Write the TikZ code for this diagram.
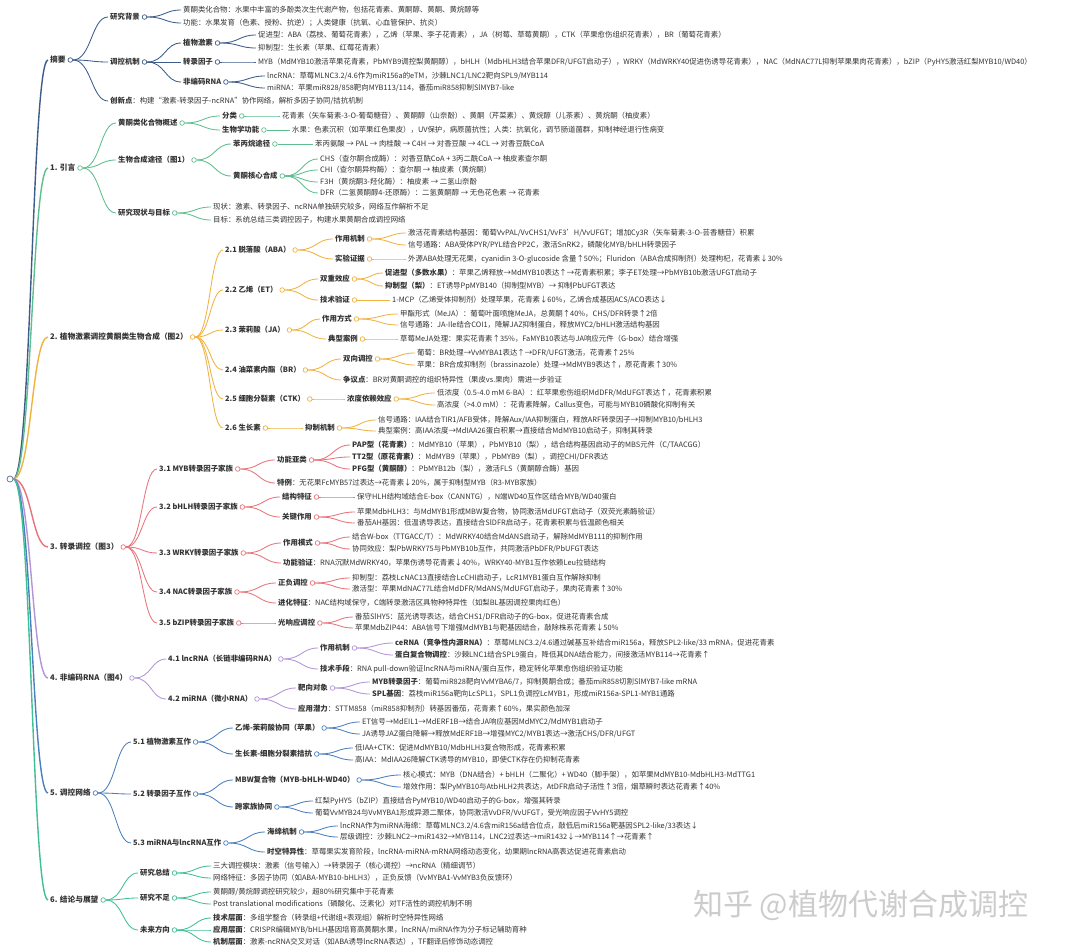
\documentclass[tikz,border=0pt]{standalone}
\usepackage{fontspec}
\setmainfont{Noto Sans CJK SC}
\usetikzlibrary{calc}
\definecolor{txt}{HTML}{333333}
\definecolor{cR}{HTML}{5B6F8F}
\definecolor{cA}{HTML}{3E5C8A}
\definecolor{cB}{HTML}{5DBE8E}
\definecolor{cC}{HTML}{F0B341}
\definecolor{cD}{HTML}{E7747A}
\definecolor{cE}{HTML}{B394D6}
\definecolor{cF}{HTML}{4A80C0}
\definecolor{cG}{HTML}{3FBF95}
\colorlet{bc}{cA}
\tikzset{
  lab/.style={anchor=west, inner sep=0pt, text=txt, font=\fontsize{7.4}{8}\selectfont},
  blab/.style={lab, font=\fontsize{7.4}{8}\selectfont\bfseries},
  lone/.style={lab, font=\fontsize{7.7}{9}\selectfont\bfseries},
  dot/.style={circle, draw=bc, fill=white, inner sep=0pt, minimum size=4.6pt, line width=0.7pt},
  cn/.style={draw=bc, line width=0.85pt},
  rcn/.style={line width=1.4pt},
}
\newcommand\Cn[2]{\draw[cn] let \p1=(#1o.east),\p2=(#2.west) in (\p1) .. controls ({0.5*\x1+0.5*\x2},\y1) and ({0.5*\x1+0.5*\x2},\y2) .. ({\x2-2pt},\y2);}
\newcommand\Nd[6]{\node[#5] (#2) at (#3,#4) {#6};\node[dot] (#2o) at ([xshift=4.5pt]#2.east) {};\Cn{#1}{#2}}
\newcommand\Lf[5]{\node[lab] (#2) at (#3,#4) {#5};\Cn{#1}{#2}}
\newcommand\Rc[1]{\draw[rcn,draw=bc] let \p1=(rooto.east),\p2=(#1.west) in (\p1) .. controls ({0.5*\x1+0.5*\x2},\y1) and ({0.5*\x1+0.5*\x2},\y2) .. ({\x2-2pt},\y2);}
\begin{document}
\begin{tikzpicture}[x=1pt,y=-1pt]
\fill[white] (0,0) rectangle (1080,950);
\useasboundingbox (0,0) rectangle (1080,950);
\node[dot,draw=cR,minimum size=6pt] (rooto) at (10,479) {};

% ---------------- 摘要
\begin{scope}
\colorlet{bc}{cA}
\node[lone] (A) at (50,60) {摘要};\node[dot] (Ao) at ([xshift=4.5pt]A.east) {};\Rc{A}
\Nd{A}{A1}{110}{17}{blab}{研究背景}
\Lf{A1}{A1a}{183}{10}{黄酮类化合物：水果中丰富的多酚类次生代谢产物，包括花青素、黄酮醇、黄酮、黄烷醇等}
\Lf{A1}{A1b}{183}{23}{功能：水果发育（色素、授粉、抗逆）；人类健康（抗氧、心血管保护、抗炎）}
\Nd{A}{A2}{110}{62}{blab}{调控机制}
\Nd{A2}{A2a}{183}{43}{blab}{植物激素}
\Lf{A2a}{A2a1}{258}{35}{促进型：ABA（荔枝、葡萄花青素），乙烯（苹果、李子花青素），JA（树莓、草莓黄酮），CTK（苹果愈伤组织花青素），BR（葡萄花青素）}
\Lf{A2a}{A2a2}{258}{48}{抑制型：生长素（苹果、红莓花青素）}
\Nd{A2}{A2b}{183}{62}{blab}{转录因子}
\Lf{A2b}{A2b1}{258}{62}{MYB（MdMYB10激活苹果花青素，PbMYB9调控梨黄酮醇），bHLH（MdbHLH3结合苹果DFR/UFGT启动子），WRKY（MdWRKY40促进伤诱导花青素），NAC（MdNAC77L抑制苹果果肉花青素），bZIP（PyHY5激活红梨MYB10/WD40）}
\Nd{A2}{A2c}{183}{82}{blab}{非编码RNA}
\Lf{A2c}{A2c1}{267}{76}{lncRNA：草莓MLNC3.2/4.6作为miR156a的eTM，沙棘LNC1/LNC2靶向SPL9/MYB114}
\Lf{A2c}{A2c2}{267}{88}{miRNA：苹果miR828/858靶向MYB113/114，番茄miR858抑制SlMYB7-like}
\Lf{A}{A3}{110}{101}{\textbf{创新点}：构建“激素-转录因子-ncRNA”协作网络，解析多因子协同/拮抗机制}
\end{scope}

% ---------------- 1. 引言
\begin{scope}
\colorlet{bc}{cB}
\node[lone] (B) at (50,168) {1. 引言};\node[dot] (Bo) at ([xshift=4.5pt]B.east) {};\Rc{B}
\Nd{B}{B1}{118}{123}{blab}{黄酮类化合物概述}
\Nd{B1}{B1a}{222}{116}{blab}{分类}
\Lf{B1a}{B1a1}{282}{116}{花青素（矢车菊素-3-O-葡萄糖苷）、黄酮醇（山奈酚）、黄酮（芹菜素）、黄烷醇（儿茶素）、黄烷酮（柚皮素）}
\Nd{B1}{B1b}{222}{130}{blab}{生物学功能}
\Lf{B1b}{B1b1}{292}{130}{水果：色素沉积（如苹果红色果皮），UV保护，病原菌抗性；人类：抗氧化，调节肠道菌群，抑制神经退行性病变}
\Nd{B}{B2}{118}{160}{blab}{生物合成途径（图1）}
\Nd{B2}{B2a}{233}{144}{blab}{苯丙烷途径}
\Lf{B2a}{B2a1}{315}{144}{苯丙氨酸 → PAL → 肉桂酸 → C4H → 对香豆酸 → 4CL → 对香豆酰CoA}
\Nd{B2}{B2b}{233}{176}{blab}{黄酮核心合成}
\Lf{B2b}{B2b1}{320}{159}{CHS（查尔酮合成酶）：对香豆酰CoA + 3丙二酰CoA → 柚皮素查尔酮}
\Lf{B2b}{B2b2}{320}{170}{CHI（查尔酮异构酶）：查尔酮 → 柚皮素（黄烷酮）}
\Lf{B2b}{B2b3}{320}{182}{F3H（黄烷酮3-羟化酶）：柚皮素 → 二氢山奈酚}
\Lf{B2b}{B2b4}{320}{193}{DFR（二氢黄酮醇4-还原酶）：二氢黄酮醇 → 无色花色素 → 花青素}
\Nd{B}{B3}{118}{213}{blab}{研究现状与目标}
\Lf{B3}{B3a}{213}{207}{现状：激素、转录因子、ncRNA单独研究较多，网络互作解析不足}
\Lf{B3}{B3b}{213}{220}{目标：系统总结三类调控因子，构建水果黄酮合成调控网络}
\end{scope}

% ---------------- 2. 植物激素
\begin{scope}
\colorlet{bc}{cC}
\node[lone] (C) at (50,337) {2. 植物激素调控黄酮类生物合成（图2）};\node[dot] (Co) at ([xshift=4.5pt]C.east) {};\Rc{C}
\Nd{C}{C1}{225}{250}{blab}{2.1 脱落酸（ABA）}
\Nd{C1}{C1a}{335}{239}{blab}{作用机制}
\Lf{C1a}{C1a1}{408}{233}{激活花青素结构基因：葡萄VvPAL/VvCHS1/VvF3’H/VvUFGT；增加Cy3R（矢车菊素-3-O-芸香糖苷）积累}
\Lf{C1a}{C1a2}{408}{245}{信号通路：ABA受体PYR/PYL结合PP2C，激活SnRK2，磷酸化MYB/bHLH转录因子}
\Nd{C1}{C1b}{335}{259}{blab}{实验证据}
\Lf{C1b}{C1b1}{408}{259}{外源ABA处理无花果，cyanidin 3-O-glucoside 含量↑50\%；Fluridon（ABA合成抑制剂）处理枸杞，花青素↓30\%}
\Nd{C}{C2}{225}{290}{blab}{2.2 乙烯（ET）}
\Nd{C2}{C2a}{320}{279}{blab}{双重效应}
\Lf{C2a}{C2a1}{385}{273}{\textbf{促进型（多数水果）}：苹果乙烯释放→MdMYB10表达↑→花青素积累；李子ET处理→PbMYB10b激活UFGT启动子}
\Lf{C2a}{C2a2}{385}{286}{\textbf{抑制型（梨）}：ET诱导PpMYB140（抑制型MYB）→ 抑制PbUFGT表达}
\Nd{C2}{C2b}{320}{300}{blab}{技术验证}
\Lf{C2b}{C2b1}{392}{300}{1-MCP（乙烯受体抑制剂）处理苹果，花青素↓60\%，乙烯合成基因ACS/ACO表达↓}
\Nd{C}{C3}{225}{330}{blab}{2.3 茉莉酸（JA）}
\Nd{C3}{C3a}{322}{319}{blab}{作用方式}
\Lf{C3a}{C3a1}{400}{314}{甲酯形式（MeJA）：葡萄叶面喷施MeJA，总黄酮↑40\%，CHS/DFR转录↑2倍}
\Lf{C3a}{C3a2}{400}{325}{信号通路：JA-Ile结合COI1，降解JAZ抑制蛋白，释放MYC2/bHLH激活结构基因}
\Nd{C3}{C3b}{328}{339}{blab}{典型案例}
\Lf{C3b}{C3b1}{400}{339}{草莓MeJA处理：果实花青素↑35\%，FaMYB10表达与JA响应元件（G-box）结合增强}
\Nd{C}{C4}{225}{370}{blab}{2.4 油菜素内酯（BR）}
\Nd{C4}{C4a}{343}{359}{blab}{双向调控}
\Lf{C4a}{C4a1}{417}{353}{葡萄：BR处理→VvMYBA1表达↑→DFR/UFGT激活，花青素↑25\%}
\Lf{C4a}{C4a2}{417}{365}{苹果：BR合成抑制剂（brassinazole）处理→MdMYB9表达↑，原花青素↑30\%}
\Lf{C4}{C4b}{343}{380}{\textbf{争议点}：BR对黄酮调控的组织特异性（果皮vs.果肉）需进一步验证}
\Nd{C}{C5}{225}{399}{blab}{2.5 细胞分裂素（CTK）}
\Nd{C5}{C5a}{347}{399}{blab}{浓度依赖效应}
\Lf{C5a}{C5a1}{437}{393}{低浓度（0.5-4.0 mM 6-BA）：红苹果愈伤组织MdDFR/MdUFGT表达↑，花青素积累}
\Lf{C5a}{C5a2}{437}{405}{高浓度（>4.0 mM）：花青素降解，Callus变色，可能与MYB10磷酸化抑制有关}
\Nd{C}{C6}{225}{428}{blab}{2.6 生长素}
\Nd{C6}{C6a}{305}{428}{blab}{抑制机制}
\Lf{C6a}{C6a1}{378}{420}{信号通路：IAA结合TIR1/AFB受体，降解Aux/IAA抑制蛋白，释放ARF转录因子→抑制MYB10/bHLH3}
\Lf{C6a}{C6a2}{378}{431}{典型案例：高IAA浓度→MdIAA26蛋白积累→直接结合MdMYB10启动子，抑制其转录}
\end{scope}

% ---------------- 3. 转录调控
\begin{scope}
\colorlet{bc}{cD}
\node[lone] (D) at (50,547) {3. 转录调控（图3）};\node[dot] (Do) at ([xshift=4.5pt]D.east) {};\Rc{D}
\Nd{D}{D1}{159}{469}{blab}{3.1 MYB转录因子家族}
\Nd{D1}{D1a}{277}{460}{blab}{功能亚类}
\Lf{D1a}{D1a1}{352}{445}{\textbf{PAP型（花青素）}：MdMYB10（苹果），PbMYB10（梨），结合结构基因启动子的MBS元件（C/TAACGG）}
\Lf{D1a}{D1a2}{352}{457}{\textbf{TT2型（原花青素）}：MdMYB9（苹果），PbMYB9（梨），调控CHI/DFR表达}
\Lf{D1a}{D1a3}{352}{469}{\textbf{PFG型（黄酮醇）}：PbMYB12b（梨），激活FLS（黄酮醇合酶）基因}
\Lf{D1}{D1b}{277}{483}{\textbf{特例}：无花果FcMYB57过表达→花青素↓20\%，属于抑制型MYB（R3-MYB家族）}
\Nd{D}{D2}{159}{507}{blab}{3.2 bHLH转录因子家族}
\Nd{D2}{D2a}{282}{497}{blab}{结构特征}
\Lf{D2a}{D2a1}{357}{497}{保守HLH结构域结合E-box（CANNTG），N端WD40互作区结合MYB/WD40蛋白}
\Nd{D2}{D2b}{282}{517}{blab}{关键作用}
\Lf{D2b}{D2b1}{357}{512}{苹果MdbHLH3：与MdMYB1形成MBW复合物，协同激活MdUFGT启动子（双荧光素酶验证）}
\Lf{D2b}{D2b2}{357}{523}{番茄AH基因：低温诱导表达，直接结合SlDFR启动子，花青素积累与低温颜色相关}
\Nd{D}{D3}{159}{553}{blab}{3.3 WRKY转录因子家族}
\Nd{D3}{D3a}{283}{543}{blab}{作用模式}
\Lf{D3a}{D3a1}{352}{537}{结合W-box（TTGACC/T）：MdWRKY40结合MdANS启动子，解除MdMYB111的抑制作用}
\Lf{D3a}{D3a2}{352}{549}{协同效应：梨PbWRKY75与PbMYB10b互作，共同激活PbDFR/PbUFGT表达}
\Lf{D3}{D3b}{283}{563}{\textbf{功能验证}：RNA沉默MdWRKY40，苹果伤诱导花青素↓40\%，WRKY40-MYB1互作依赖Leu拉链结构}
\Nd{D}{D4}{159}{592}{blab}{3.4 NAC转录因子家族}
\Nd{D4}{D4a}{278}{583}{blab}{正负调控}
\Lf{D4a}{D4a1}{352}{578}{抑制型：荔枝LcNAC13直接结合LcCHI启动子，LcR1MYB1蛋白互作解除抑制}
\Lf{D4a}{D4a2}{352}{589}{激活型：苹果MdNAC77L结合MdDFR/MdANS/MdUFGT启动子，果肉花青素↑30\%}
\Lf{D4}{D4b}{278}{603}{\textbf{进化特征}：NAC结构域保守，C端转录激活区具物种特异性（如梨BL基因调控果肉红色）}
\Nd{D}{D5}{159}{623}{blab}{3.5 bZIP转录因子家族}
\Nd{D5}{D5a}{278}{623}{blab}{光响应调控}
\Lf{D5a}{D5a1}{355}{617}{番茄SlHY5：蓝光诱导表达，结合CHS1/DFR启动子的G-box，促进花青素合成}
\Lf{D5a}{D5a2}{355}{628}{苹果MdbZIP44：ABA信号下增强MdMYB1与靶基因结合，敲除株系花青素↓50\%}
\end{scope}

% ---------------- 4. 非编码RNA
\begin{scope}
\colorlet{bc}{cE}
\node[lone] (E) at (50,678) {4. 非编码RNA（图4）};\node[dot] (Eo) at ([xshift=4.5pt]E.east) {};\Rc{E}
\Nd{E}{E1}{168}{659}{blab}{4.1 lncRNA（长链非编码RNA）}
\Nd{E1}{E1a}{320}{648}{blab}{作用机制}
\Lf{E1a}{E1a1}{395}{643}{\textbf{ceRNA（竞争性内源RNA）}：草莓MLNC3.2/4.6通过碱基互补结合miR156a，释放SPL2-like/33 mRNA，促进花青素}
\Lf{E1a}{E1a2}{395}{655}{\textbf{蛋白复合物调控}：沙棘LNC1结合SPL9蛋白，降低其DNA结合能力，间接激活MYB114→花青素↑}
\Lf{E1}{E1b}{320}{669}{\textbf{技术手段}：RNA pull-down验证lncRNA与miRNA/蛋白互作，稳定转化苹果愈伤组织验证功能}
\Nd{E}{E2}{168}{699}{blab}{4.2 miRNA（微小RNA）}
\Nd{E2}{E2a}{298}{688}{blab}{靶向对象}
\Lf{E2a}{E2a1}{372}{682}{\textbf{MYB转录因子}：葡萄miR828靶向VvMYBA6/7，抑制黄酮合成；番茄miR858切割SlMYB7-like mRNA}
\Lf{E2a}{E2a2}{372}{694}{\textbf{SPL基因}：荔枝miR156a靶向LcSPL1，SPL1负调控LcMYB1，形成miR156a-SPL1-MYB1通路}
\Lf{E2}{E2b}{298}{709}{\textbf{应用潜力}：STTM858（miR858抑制剂）转基因番茄，花青素↑60\%，果实颜色加深}
\end{scope}

% ---------------- 5. 调控网络
\begin{scope}
\colorlet{bc}{cF}
\node[lone] (F) at (50,793) {5. 调控网络};\node[dot] (Fo) at ([xshift=4.5pt]F.east) {};\Rc{F}
\Nd{F}{F1}{133}{742}{blab}{5.1 植物激素互作}
\Nd{F1}{F1a}{235}{728}{blab}{乙烯-茉莉酸协同（苹果）}
\Lf{F1a}{F1a1}{362}{722}{ET信号→MdEIL1→MdERF1B→结合JA响应基因MdMYC2/MdMYB1启动子}
\Lf{F1a}{F1a2}{362}{734}{JA诱导JAZ蛋白降解→释放MdERF1B→增强MYC2/MYB1表达→激活CHS/DFR/UFGT}
\Nd{F1}{F1b}{235}{754}{blab}{生长素-细胞分裂素拮抗}
\Lf{F1b}{F1b1}{355}{748}{低IAA+CTK：促进MdMYB10/MdbHLH3复合物形成，花青素积累}
\Lf{F1b}{F1b2}{355}{760}{高IAA：MdIAA26降解CTK诱导的MYB10，即使CTK存在仍抑制花青素}
\Nd{F}{F2}{133}{794}{blab}{5.2 转录因子互作}
\Nd{F2}{F2a}{235}{780}{blab}{MBW复合物（MYB-bHLH-WD40）}
\Lf{F2a}{F2a1}{403}{775}{核心模式：MYB（DNA结合）+ bHLH（二聚化）+ WD40（脚手架），如苹果MdMYB10-MdbHLH3-MdTTG1}
\Lf{F2a}{F2a2}{403}{787}{增效作用：梨PyMYB10与AtbHLH2共表达，AtDFR启动子活性↑3倍，烟草瞬时表达花青素↑40\%}
\Nd{F2}{F2b}{235}{807}{blab}{跨家族协同}
\Lf{F2b}{F2b1}{315}{801}{红梨PyHY5（bZIP）直接结合PyMYB10/WD40启动子的G-box，增强其转录}
\Lf{F2b}{F2b2}{315}{813}{葡萄VvMYB24与VvMYBA1形成异源二聚体，协同激活VvDFR/VvUFGT，受光响应因子VvHY5调控}
\Nd{F}{F3}{133}{843}{blab}{5.3 miRNA与lncRNA互作}
\Nd{F3}{F3a}{267}{832}{blab}{海绵机制}
\Lf{F3a}{F3a1}{340}{826}{lncRNA作为miRNA海绵：草莓MLNC3.2/4.6含miR156a结合位点，敲低后miR156a靶基因SPL2-like/33表达↓}
\Lf{F3a}{F3a2}{340}{837}{层级调控：沙棘LNC2→miR1432→MYB114，LNC2过表达→miR1432↓→MYB114↑→花青素↑}
\Lf{F3}{F3b}{267}{852}{\textbf{时空特异性}：草莓果实发育阶段，lncRNA-miRNA-mRNA网络动态变化，幼果期lncRNA高表达促进花青素启动}
\end{scope}

% ---------------- 6. 结论与展望
\begin{scope}
\colorlet{bc}{cG}
\node[lone] (G) at (50,900) {6. 结论与展望};\node[dot] (Go) at ([xshift=4.5pt]G.east) {};\Rc{G}
\Nd{G}{G1}{140}{873}{blab}{研究总结}
\Lf{G1}{G1a}{213}{866}{三大调控模块：激素（信号输入）→转录因子（核心调控）→ncRNA（精细调节）}
\Lf{G1}{G1b}{213}{878}{网络特征：多因子协同（如ABA-MYB10-bHLH3），正负反馈（VvMYBA1-VvMYB3负反馈环）}
\Nd{G}{G2}{140}{898}{blab}{研究不足}
\Lf{G2}{G2a}{213}{892}{黄酮醇/黄烷醇调控研究较少，超80\%研究集中于花青素}
\Lf{G2}{G2b}{213}{904}{Post translational modifications（磷酸化、泛素化）对TF活性的调控机制不明}
\Nd{G}{G3}{140}{930}{blab}{未来方向}
\Lf{G3}{G3a}{213}{918}{\textbf{技术层面}：多组学整合（转录组+代谢组+表观组）解析时空特异性网络}
\Lf{G3}{G3b}{213}{930}{\textbf{应用层面}：CRISPR编辑MYB/bHLH基因培育高黄酮水果，lncRNA/miRNA作为分子标记辅助育种}
\Lf{G3}{G3c}{213}{942}{\textbf{机制层面}：激素-ncRNA交叉对话（如ABA诱导lncRNA表达），TF翻译后修饰动态调控}
\end{scope}

\node[anchor=west, inner sep=0pt, text=black!20, font=\fontsize{30}{32}\selectfont] (wm) at (693,905) {知乎 @植物代谢合成调控};
\end{tikzpicture}
\end{document}
